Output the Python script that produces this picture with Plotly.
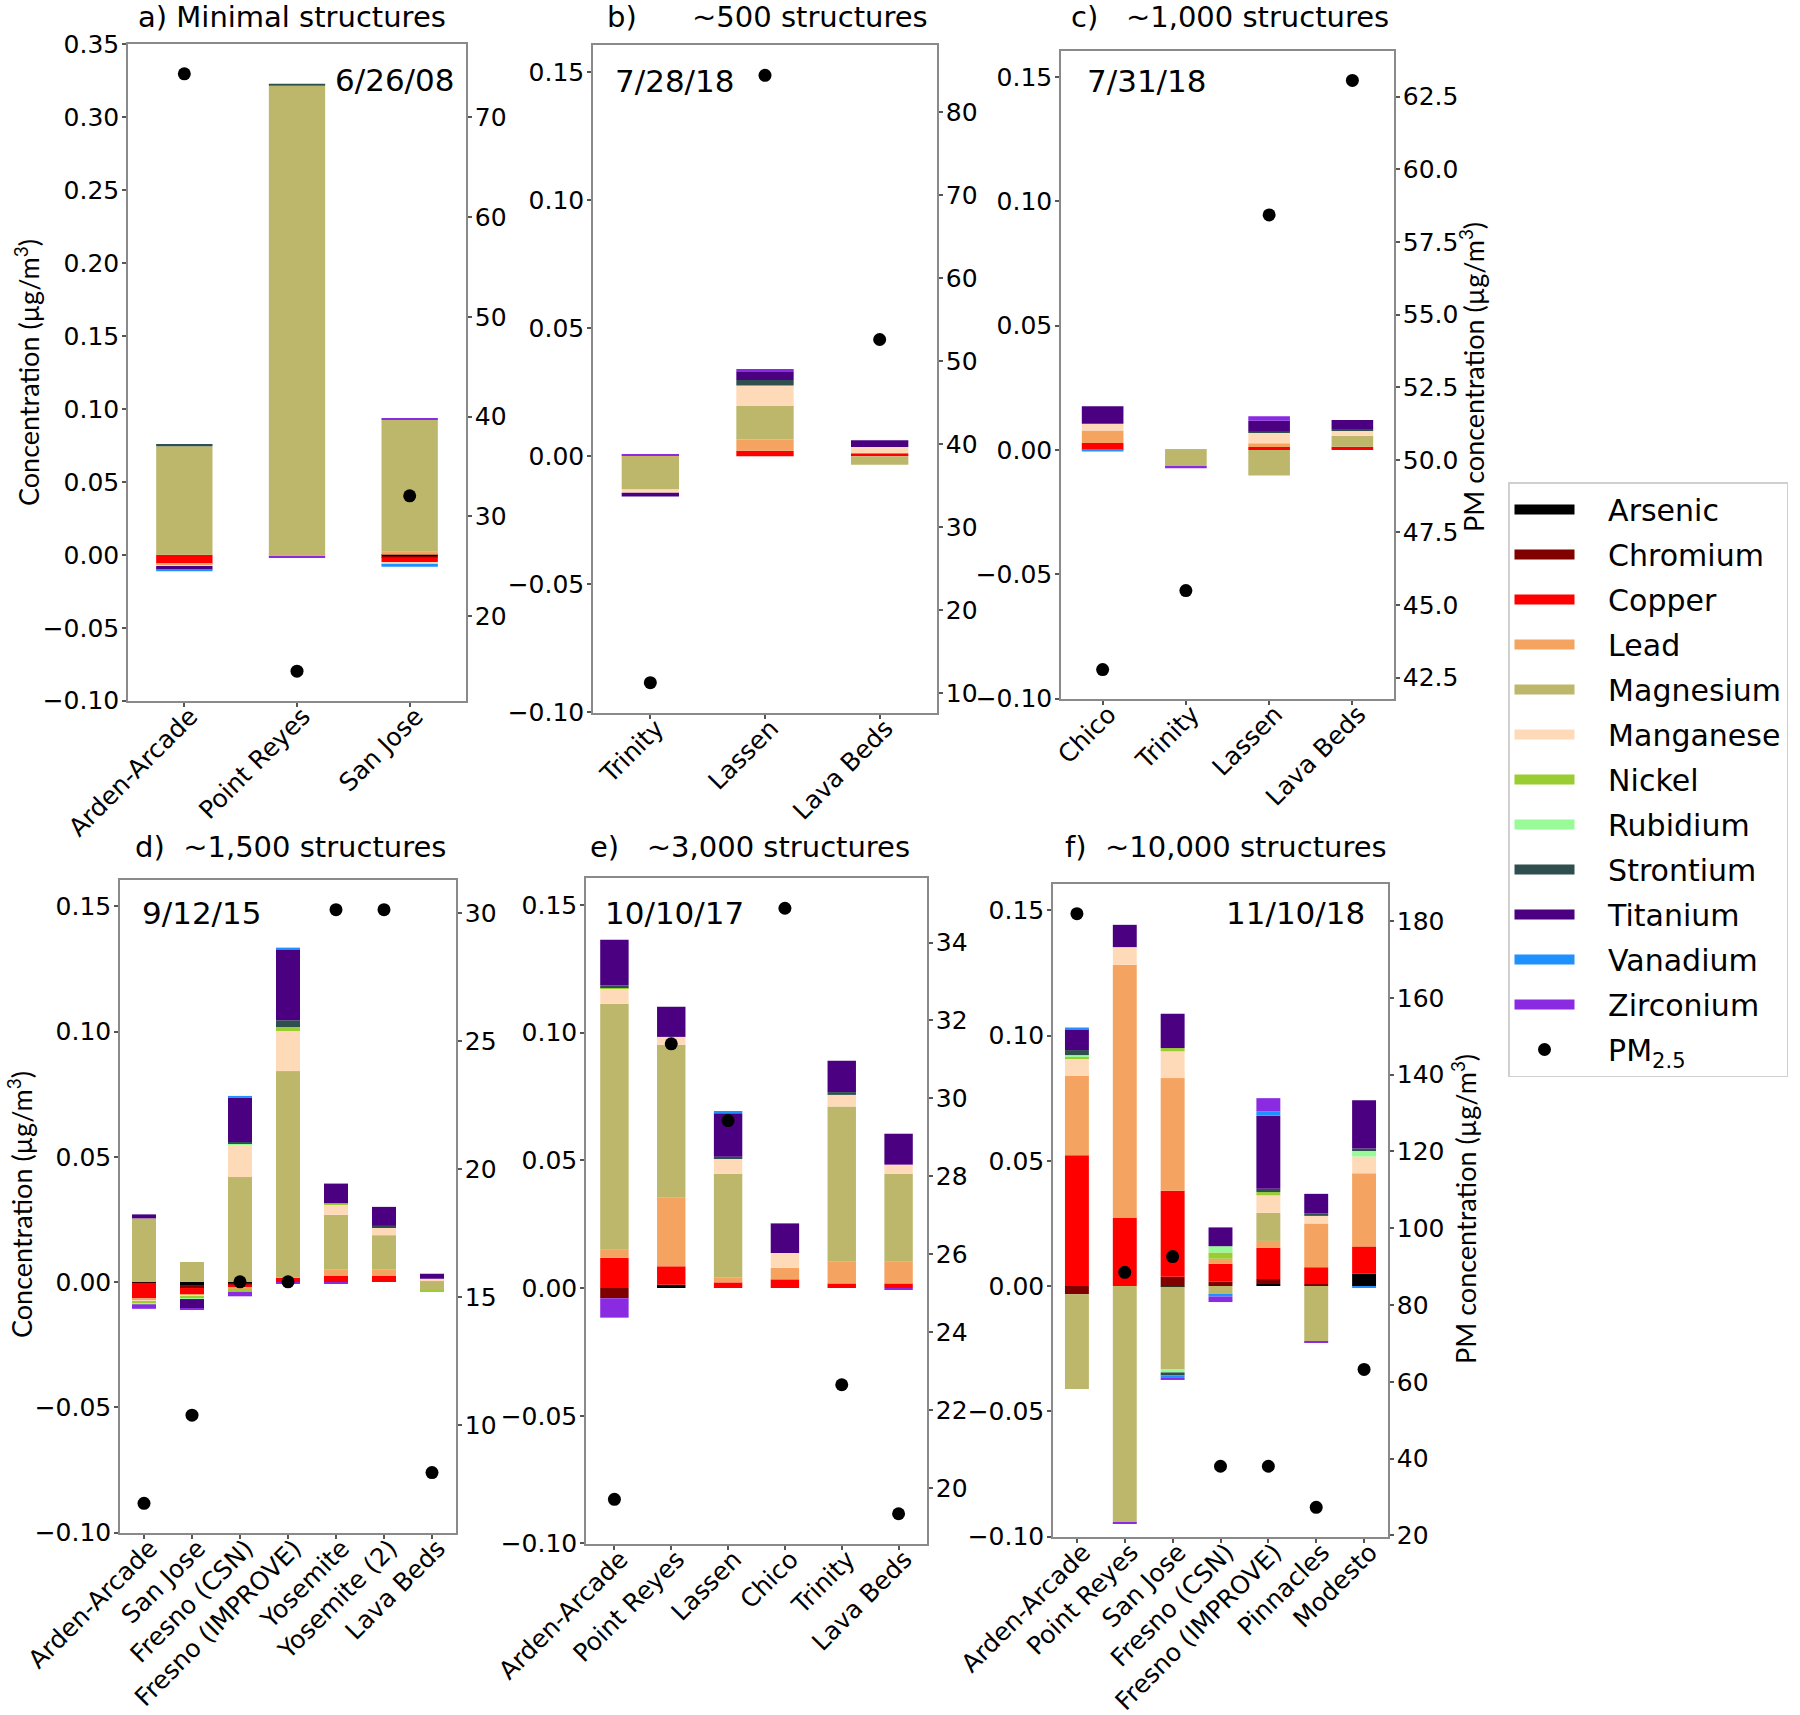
import plotly.graph_objects as go

ELEMENTS = ["Arsenic", "Chromium", "Copper", "Lead", "Magnesium", "Manganese",
            "Nickel", "Rubidium", "Strontium", "Titanium", "Vanadium", "Zirconium"]
COLORS = ["#000000", "#800000", "#FF0000", "#F4A460", "#BDB76B", "#FFDAB9",
          "#9ACD32", "#98FB98", "#2F4F4F", "#4B0082", "#1E90FF", "#8A2BE2"]

# ---------------- a) Minimal structures, 6/26/08
A_SITES = ["Arden-Arcade", "Point Reyes", "San Jose"]
A_PM = [74.35, 14.5, 32.07]
A_VAL = {
    "Arsenic":   [0, 0, -0.0008],
    "Chromium":  [0, 0, -0.0008],
    "Copper":    [-0.0062, 0, -0.0035],
    "Lead":      [-0.0008, -0.0010, 0.0022],
    "Magnesium": [0.0745, 0.3215, 0.0905],
    "Manganese": [-0.0006, 0, -0.0006],
    "Nickel":    [0, 0, 0],
    "Rubidium":  [0, 0, -0.0012],
    "Strontium": [0.0015, 0.0015, 0],
    "Titanium":  [-0.0025, 0, 0],
    "Vanadium":  [-0.0012, 0, -0.0012],
    "Zirconium": [0, -0.0005, 0.0008],
}

# ---------------- b) ~500 structures, 7/28/18
B_SITES = ["Trinity", "Lassen", "Lava Beds"]
B_PM = [11.24, 84.44, 52.6]
B_VAL = {
    "Arsenic":   [0, 0, 0],
    "Chromium":  [0, 0, 0],
    "Copper":    [0, 0.0021, 0.0012],
    "Lead":      [0.0002, 0.0044, 0],
    "Magnesium": [-0.0130, 0.0131, -0.0033],
    "Manganese": [-0.0012, 0.0080, 0.0024],
    "Nickel":    [0, 0, 0],
    "Rubidium":  [0, 0, 0],
    "Strontium": [0, 0.0022, 0],
    "Titanium":  [-0.0015, 0.0034, 0.0026],
    "Vanadium":  [0, 0, 0],
    "Zirconium": [0.0006, 0.0009, 0],
}

# ---------------- c) ~1,000 structures, 7/31/18
C_SITES = ["Chico", "Trinity", "Lassen", "Lava Beds"]
C_PM = [42.78, 45.5, 58.43, 63.06]
C_VAL = {
    "Arsenic":   [0, 0, 0, 0],
    "Chromium":  [0, 0, 0, 0],
    "Copper":    [0.0028, 0, 0.0012, 0.0013],
    "Lead":      [0.0050, 0.0003, 0.0015, 0],
    "Magnesium": [0, -0.0067, -0.0103, 0.0044],
    "Manganese": [0.0027, 0, 0.0045, 0.0023],
    "Nickel":    [0, 0, 0, 0],
    "Rubidium":  [0, 0, 0, 0],
    "Strontium": [0, 0, 0.0003, 0.0004],
    "Titanium":  [0.0071, 0, 0.0042, 0.0036],
    "Vanadium":  [-0.0006, 0, 0, 0],
    "Zirconium": [0, -0.0007, 0.0019, 0],
}

# ---------------- d) ~1,500 structures, 9/12/15
D_SITES = ["Arden-Arcade", "San Jose", "Fresno (CSN)", "Fresno (IMPROVE)",
           "Yosemite", "Yosemite (2)", "Lava Beds"]
D_PM = [6.96, 10.4, 15.6, 15.6, 30.12, 30.12, 8.16]
D_VAL = {
    "Arsenic":   [-0.0003, -0.0012, -0.0005, 0, 0, 0, 0],
    "Chromium":  [0, -0.0012, -0.0005, 0, 0, 0, 0],
    "Copper":    [-0.0062, -0.0027, -0.0013, 0.0017, 0.0024, 0.0024, 0],
    "Lead":      [-0.0008, -0.0004, -0.0004, 0, 0.0027, 0.0027, 0.0008],
    "Magnesium": [0.0254, 0.0080, 0.0419, 0.0825, 0.0217, 0.0136, -0.0034],
    "Manganese": [-0.0004, -0.0003, 0.0126, 0.0160, 0.0040, 0.0030, 0.0005],
    "Nickel":    [-0.0007, -0.0006, -0.0012, 0.0016, 0.0007, 0, -0.0003],
    "Rubidium":  [-0.0005, -0.0004, 0.0009, 0, 0, 0, 0],
    "Strontium": [0, -0.0002, 0.0005, 0.0027, 0, 0.0007, 0],
    "Titanium":  [0.0016, -0.0035, 0.0176, 0.0283, 0.0078, 0.0076, 0.0020],
    "Vanadium":  [0, 0, 0.0008, 0.0007, 0, 0, 0],
    "Zirconium": [-0.0018, -0.0004, -0.0018, -0.0008, -0.0005, 0, 0],
}

# ---------------- e) ~3,000 structures, 10/10/17
E_SITES = ["Arden-Arcade", "Point Reyes", "Lassen", "Chico", "Trinity", "Lava Beds"]
E_PM = [19.71, 31.40, 29.43, 34.88, 22.65, 19.34]
E_VAL = {
    "Arsenic":   [0, 0.0013, 0, 0, 0, 0],
    "Chromium":  [-0.0040, 0, 0, 0, 0, 0],
    "Copper":    [0.0118, 0.0072, 0.0022, 0.0034, 0.0018, 0.0018],
    "Lead":      [0.0034, 0.0268, 0.0018, 0.0045, 0.0085, 0.0085],
    "Magnesium": [0.0961, 0.0599, 0.0407, 0, 0.0608, 0.0344],
    "Manganese": [0.0060, 0.0031, 0.0058, 0.0058, 0.0045, 0.0036],
    "Nickel":    [0.0005, 0, 0, 0, 0, 0],
    "Rubidium":  [0, 0, 0, 0, 0, 0],
    "Strontium": [0.0006, 0, 0.0009, 0, 0.0011, 0],
    "Titanium":  [0.0179, 0.0118, 0.0170, 0.0116, 0.0123, 0.0121],
    "Vanadium":  [0, 0, 0.0009, 0, 0, 0],
    "Zirconium": [-0.0076, 0, 0, 0, 0, -0.0005],
}

# ---------------- f) ~10,000 structures, 11/10/18
F_SITES = ["Arden-Arcade", "Point Reyes", "San Jose", "Fresno (CSN)",
           "Fresno (IMPROVE)", "Pinnacles", "Modesto"]
F_PM = [181.9, 88.5, 92.6, 38.0, 38.0, 27.3, 63.2]
F_VAL = {
    "Arsenic":   [0, 0, -0.0003, 0, 0.0008, 0, 0.0050],
    "Chromium":  [-0.0033, 0, 0.0037, 0.0017, 0.0020, 0.0008, 0],
    "Copper":    [0.0522, 0.0272, 0.0343, 0.0072, 0.0125, 0.0067, 0.0108],
    "Lead":      [0.0317, 0.1011, 0.0450, 0.0020, 0.0027, 0.0175, 0.0292],
    "Magnesium": [-0.0378, -0.0945, -0.0330, -0.0035, 0.0112, -0.0222, 0],
    "Manganese": [0.0070, 0.0070, 0.0107, 0, 0.0070, 0.0030, 0.0067],
    "Nickel":    [0.0005, 0, 0.0013, 0.0025, 0.0013, 0, 0],
    "Rubidium":  [0.0008, 0, -0.0012, 0.0025, 0, 0, 0.0025],
    "Strontium": [0.0020, 0, -0.0012, 0, 0.0013, 0.0010, 0.0007],
    "Titanium":  [0.0083, 0.0089, 0.0137, 0.0075, 0.0292, 0.0078, 0.0193],
    "Vanadium":  [0.0007, 0, -0.0010, -0.0007, 0.0017, 0, -0.0005],
    "Zirconium": [0, -0.0003, -0.0008, -0.0022, 0.0053, -0.0003, 0],
}

TITLES = ["a)\u00a0Minimal structures",
          "b)\u00a0\u00a0\u00a0\u00a0\u00a0\u00a0~500 structures",
          "c)\u00a0\u00a0\u00a0~1,000 structures",
          "d)\u00a0\u00a0~1,500 structures",
          "e)\u00a0\u00a0\u00a0~3,000 structures",
          "f)\u00a0\u00a0~10,000 structures"]
DATES = ["6/26/08", "7/28/18", "7/31/18", "9/12/15", "10/10/17", "11/10/18"]

# ---------------- layout geometry (pixels on the 1800x1715 canvas)
W, H = 1800, 1715
BOXES = [  # left, right, top, bottom
    (128, 466, 44, 701),
    (593, 937, 45, 713),
    (1061, 1394, 51, 699),
    (120, 456, 880, 1533),
    (586, 927, 878, 1544),
    (1053, 1388, 884, 1537),
]
YTOPS = [0.3502, 0.1605, 0.1605, 0.1605, 0.1605, 0.1605]
RDTICK = [10, 10, 2.5, 5, 2, 20]
RFMT = ["d", "d", ".1f", "d", "d", "d"]
TITLE_POS = [(292, 17), (767, 17), (1230, 17), (290, 847), (750, 847), (1226, 847)]
DATE_POS = [(457, 80, "right"), (613, 81, "left"), (1085, 81, "left"),
            (140, 913, "left"), (603, 913, "left"), (1367, 913, "right")]

PANELS = [(A_SITES, A_VAL, A_PM), (B_SITES, B_VAL, B_PM), (C_SITES, C_VAL, C_PM),
          (D_SITES, D_VAL, D_PM), (E_SITES, E_VAL, E_PM), (F_SITES, F_VAL, F_PM)]

LINE = "#8a8a8a"
TICKFONT = dict(family="DejaVu Sans", size=25, color="black")


def px(x):
    return x / W


def py(y):
    return (H - y) / H


fig = go.Figure()
layout = {}
annotations = []

# legend entries (wide colour swatches like the original legend)
for el, col in zip(ELEMENTS, COLORS):
    fig.add_trace(go.Scatter(
        x=[None], y=[None], mode="lines", name="\u00a0\u00a0\u00a0" + el,
        line=dict(color=col, width=20), xaxis="x", yaxis="y",
        legendgroup=el, showlegend=True, hoverinfo="skip"))

for k, (sites, vals, pm) in enumerate(PANELS):
    xa = "x" if k == 0 else f"x{k + 1}"
    yl = "y" if k == 0 else f"y{2 * k + 1}"
    yr = f"y{2 * k + 2}"
    for el, col in zip(ELEMENTS, COLORS):
        fig.add_trace(go.Bar(
            x=sites, y=vals[el], name=el, width=0.5,
            marker=dict(color=col, line=dict(width=0)),
            xaxis=xa, yaxis=yl, legendgroup=el, showlegend=False))
    fig.add_trace(go.Scatter(
        x=sites, y=pm, mode="markers", name="\u00a0\u00a0\u00a0PM<sub>2.5</sub>",
        marker=dict(color="black", size=13),
        xaxis=xa, yaxis=yr, legendgroup="pm", showlegend=(k == 0)))

    l, r, t, b = BOXES[k]
    lo, hi = min(pm), max(pm)
    span = hi - lo
    rrange = [lo - 0.05 * span, hi + 0.05 * span]

    xkey = "xaxis" if k == 0 else f"xaxis{k + 1}"
    ylkey = "yaxis" if k == 0 else f"yaxis{2 * k + 1}"
    yrkey = f"yaxis{2 * k + 2}"
    common = dict(showline=True, linecolor=LINE, linewidth=1.5,
                  ticks="outside", ticklen=4, tickwidth=1.5, tickcolor="#555",
                  tickfont=TICKFONT, showgrid=False, zeroline=False,
                  automargin=False)
    layout[xkey] = dict(
        domain=[px(l), px(r)], anchor=yl, type="category",
        range=[-0.5, len(sites) - 0.5], tickangle=-45, mirror=True,
        ticklabelstandoff=-15, ticklabelshift=6, **common)
    layout[ylkey] = dict(
        domain=[py(b), py(t)], anchor=xa, range=[-0.1002, YTOPS[k]],
        tick0=0, dtick=0.05, tickformat=".2f", ticklabelstandoff=-2, **common)
    layout[yrkey] = dict(
        overlaying=yl, side="right", anchor=xa, range=rrange,
        tick0=0, dtick=RDTICK[k], tickformat=RFMT[k], ticklabelstandoff=-2,
        **common)

    tx, ty = TITLE_POS[k]
    annotations.append(dict(
        text=TITLES[k], x=px(tx), y=py(ty), xref="paper", yref="paper",
        xanchor="center", yanchor="middle", showarrow=False,
        font=dict(family="DejaVu Sans", size=29, color="black")))
    dx, dy, anc = DATE_POS[k]
    annotations.append(dict(
        text=DATES[k], x=px(dx), y=py(dy), xref="paper", yref="paper",
        xanchor=anc, yanchor="middle", showarrow=False,
        font=dict(family="DejaVu Sans", size=31, color="black")))

LABEL_FONT = dict(family="Lato", size=27, color="black")
for (lx, ly, txt) in [(27, 373, "Concentration (µg/m<sup>3</sup>)"),
                      (20, 1205, "Concentration (µg/m<sup>3</sup>)"),
                      (1472, 377, "PM concentration (µg/m<sup>3</sup>)"),
                      (1464, 1209, "PM concentration (µg/m<sup>3</sup>)")]:
    annotations.append(dict(
        text=txt, x=px(lx), y=py(ly), xref="paper", yref="paper",
        xanchor="center", yanchor="middle", textangle=-90, showarrow=False,
        font=LABEL_FONT))

fig.update_layout(
    **layout,
    annotations=annotations,
    barmode="relative",
    width=W, height=H, autosize=False,
    margin=dict(l=0, r=0, t=0, b=0, autoexpand=False),
    paper_bgcolor="white", plot_bgcolor="white",
    font=dict(family="DejaVu Sans", size=25, color="black"),
    legend=dict(
        x=px(1508), y=py(482), xanchor="left", yanchor="top",
        traceorder="grouped", tracegroupgap=3,
        font=dict(family="DejaVu Sans", size=30, color="black"),
        bordercolor="#d0d0d0", borderwidth=1.5, bgcolor="white",
        itemwidth=60),
)

fig.write_html("out.html",
               config={"displayModeBar": False},
               post_script="document.body.style.margin='0px';"
                           "document.body.style.overflow='hidden';")
